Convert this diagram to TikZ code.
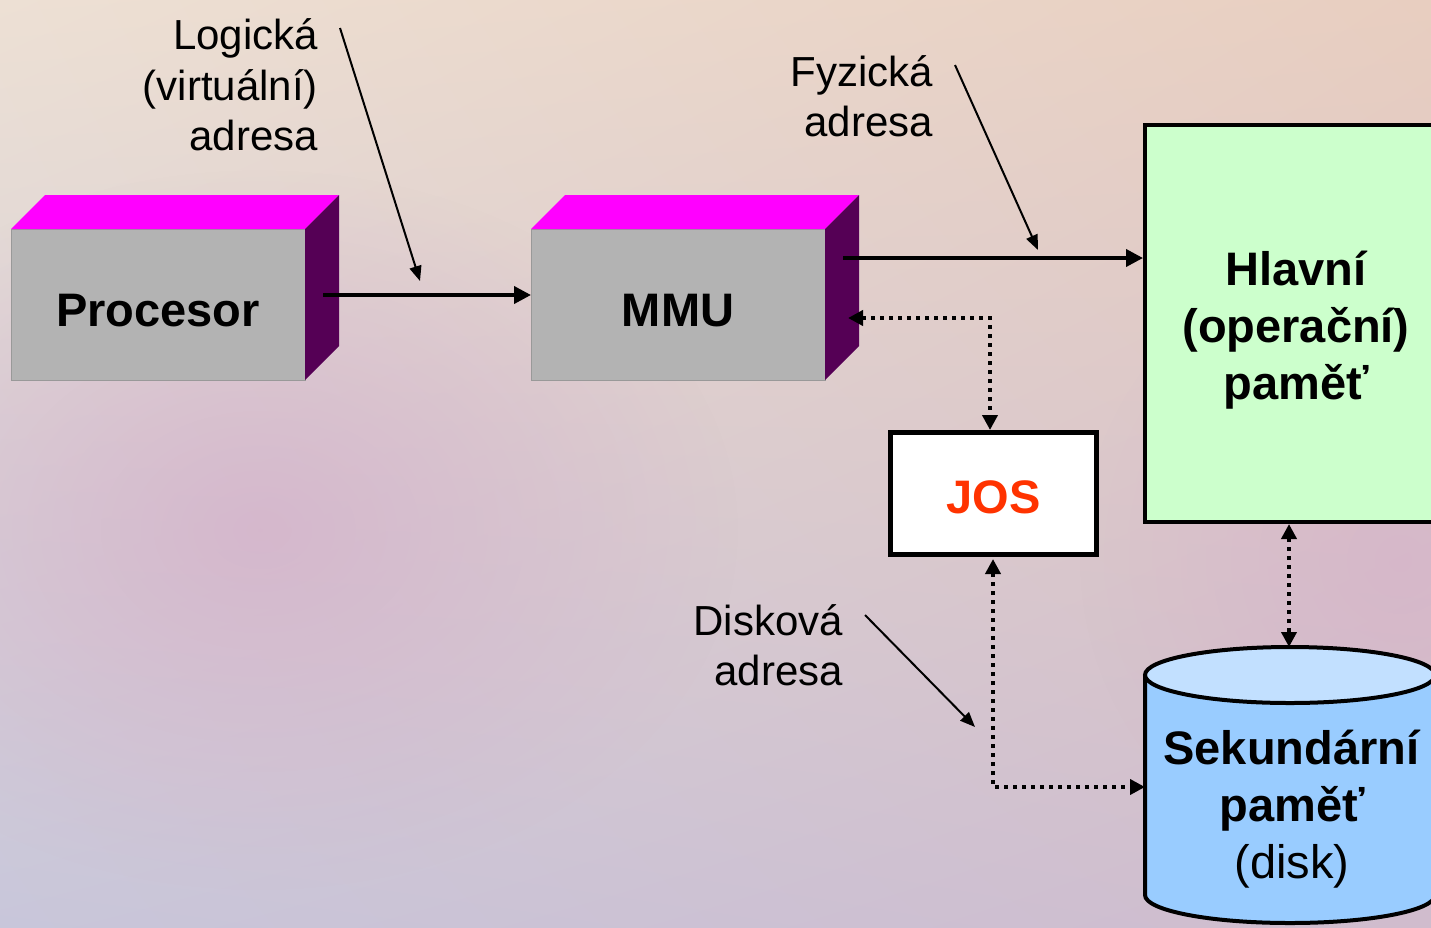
\documentclass[tikz,border=0pt]{standalone}
\usepackage{fontspec}
\setmainfont{Liberation Sans}
\usetikzlibrary{arrows.meta,calc,shadings,fadings}
\tikzfading[name=softblob,inner color=transparent!0,outer color=transparent!100]
\definecolor{bgUL}{RGB}{237,224,212}
\definecolor{bgUR}{RGB}{232,206,192}
\definecolor{bgLL}{RGB}{200,198,218}
\definecolor{bgLR}{RGB}{208,188,205}
\definecolor{mauve}{RGB}{212,176,202}
\definecolor{frontgray}{RGB}{179,179,179}
\definecolor{topmag}{RGB}{255,0,255}
\definecolor{sidepurp}{RGB}{85,0,85}
\definecolor{memgreen}{RGB}{204,255,204}
\definecolor{joscol}{RGB}{255,51,0}
\definecolor{cylbody}{RGB}{153,204,255}
\definecolor{cyltop}{RGB}{194,224,255}
\begin{document}
\begin{tikzpicture}[x=1pt,y=-1pt,
  front/.style={fill=frontgray,draw=gray!80,line width=1pt,minimum width=294pt,minimum height=151pt,inner sep=0pt,outer sep=0pt},
  boxtext/.style={inner sep=0pt,font=\fontsize{47}{57}\selectfont\bfseries},
  lbl/.style={anchor=east,align=right,inner sep=0pt,font=\fontsize{42}{50.5}\selectfont},
  big/.style={align=center,inner sep=0pt,font=\fontsize{47}{57}\selectfont},
  mainarrow/.style={line width=3.8pt,-{Triangle[length=17pt,width=17pt]}},
  ptr/.style={line width=2pt,-{Triangle[length=15pt,width=12pt]}},
  dotline/.style={line width=4pt,dash pattern=on 4pt off 5pt,{Triangle[length=15pt,width=15pt]}-{Triangle[length=15pt,width=15pt]}}
]
\clip (0,0) rectangle (1431,927);
\shade[upper left=bgUL,upper right=bgUR,lower left=bgLL,lower right=bgLR] (0,0) rectangle (1431,927);
\fill[mauve,path fading=softblob,fill opacity=0.75] (260,530) ellipse [x radius=480pt,y radius=360pt];
\fill[mauve,path fading=softblob,fill opacity=0.6] (1400,560) ellipse [x radius=320pt,y radius=320pt];

% Procesor box
\node[front] (proc) at (158,304.5) {};
\fill[topmag] (proc.north west) -- ++(34,-34) -- ++(294,0) -- (proc.north east) -- cycle;
\fill[sidepurp] (proc.north east) -- ++(34,-34) -- ++(0,151) -- (proc.south east) -- cycle;
\node[boxtext] (proctext) at (158,311) {Procesor};

% MMU box
\node[front] (mmu) at (678,304.5) {};
\fill[topmag] (mmu.north west) -- ++(34,-34) -- ++(294,0) -- (mmu.north east) -- cycle;
\fill[sidepurp] (mmu.north east) -- ++(34,-34) -- ++(0,151) -- (mmu.south east) -- cycle;
\node[boxtext] (mmutext) at (678,311) {MMU};

% Main memory
\node[draw,line width=4pt,fill=memgreen,minimum width=302pt,minimum height=397pt,inner sep=0pt] (hl) at (1296,323.5) {};
\node[big,font=\fontsize{47}{57}\selectfont\bfseries] (hltext) at (1296,330) {Hlavní\\(operační)\\paměť};

% JOS
\node[draw,line width=5pt,fill=white,minimum width=206pt,minimum height=122pt,inner sep=0pt] (jos) at (993.5,493.5) {};
\node[boxtext,text=joscol] (jostext) at (993.5,497.5) {JOS};

% Secondary memory cylinder
\coordinate (cylL) at (1145,787);
\coordinate (cylT) at (1289,647);
\fill[cylbody] (1145,675) -- (1145,895) arc[start angle=180,end angle=360,x radius=145pt,y radius=28pt] -- (1435,675) -- cycle;
\draw[line width=4pt] (1145,675) -- (1145,895) arc[start angle=180,end angle=360,x radius=145pt,y radius=28pt] -- (1435,675);
\draw[line width=4pt,fill=cyltop] (1290,675) ellipse [x radius=145pt,y radius=28pt];
\node[big] (sek) at (1292,809) {\textbf{Sekundární}\\\textbf{paměť}\\(disk)};

% Labels
\node[lbl] (logl) at (318,85) {Logická\\(virtuální)\\adresa};
\node[lbl] (fyzl) at (933,96) {Fyzická\\adresa};
\node[lbl] (disl) at (843,645) {Disková\\adresa};

% Main connectors
\draw[mainarrow] ([xshift=18pt,yshift=9.5pt]proc.east) -- ([yshift=9.5pt]mmu.west);
\coordinate (mmuout) at ([xshift=18pt,yshift=46.5pt]mmu.east);
\draw[mainarrow] (mmuout) -- (mmuout -| hl.west);

% Dotted connectors
\coordinate (mmuside) at ([xshift=23pt,yshift=-13.5pt]mmu.east);
\coordinate (jcorner) at (990,318);
\draw[dotline] (mmuside) -- (jcorner) -- (jcorner |- jos.north);
\coordinate (jbot) at (993,559);
\draw[dotline] (jbot) -- (jbot |- cylL) -- (cylL);
\draw[dotline] (cylT |- hl.south) -- (cylT);

% Pointer lines
\coordinate (p1s) at (340,28);
\coordinate (p1e) at (420,281);
\draw[ptr] (p1s) -- (p1e);
\coordinate (p2s) at (955,65);
\coordinate (p2e) at (1038,250);
\draw[ptr] (p2s) -- (p2e);
\coordinate (p3s) at (865,615);
\coordinate (p3e) at (975,727);
\draw[ptr] (p3s) -- (p3e);
\end{tikzpicture}
\end{document}
